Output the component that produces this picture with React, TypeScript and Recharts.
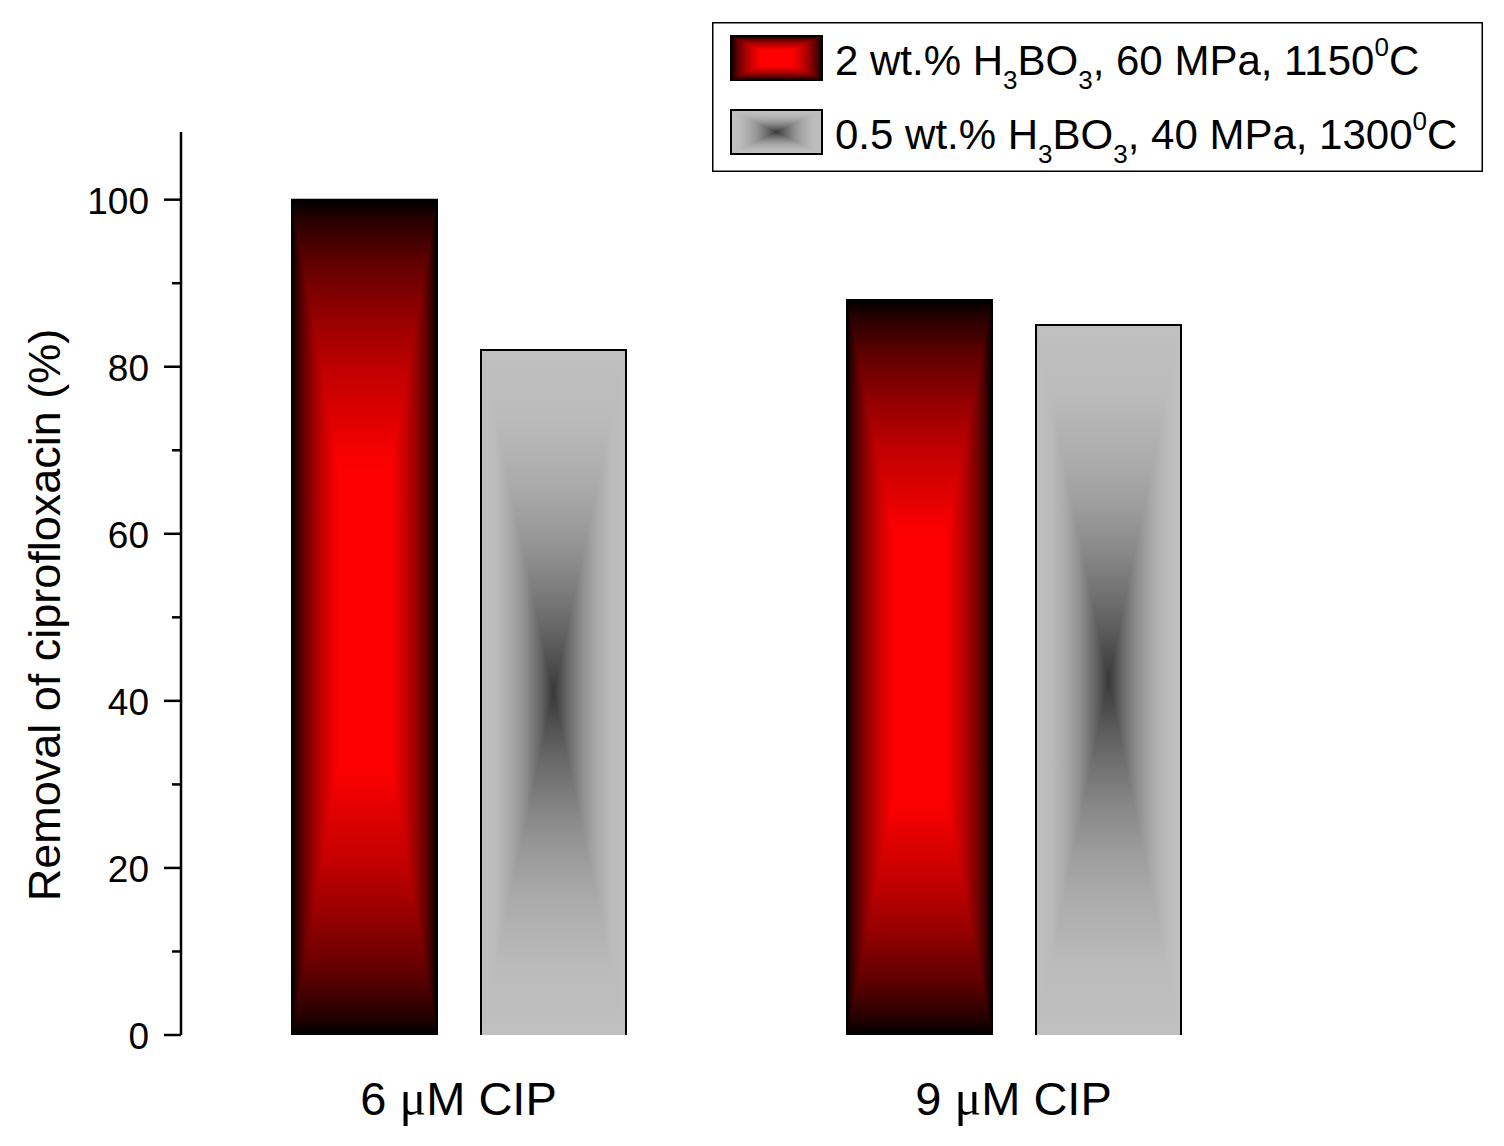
import { Bar, BarChart, Legend, XAxis, YAxis } from "recharts";

const categories = ["6 μM CIP", "9 μM CIP"];
const boric2 = [100, 88];
const boric05 = [82, 85];
const yTicks = [0, 10, 20, 30, 40, 50, 60, 70, 80, 90, 100];
const yLabelled = [0, 20, 40, 60, 80, 100];
const axisTitle = "Removal of ciprofloxacin (%)";

// legend label pieces: [text, "sub" | "sup" | undefined]
const legendLabels: [string, string?][][] = [
  [["2 wt.% H"], ["3", "sub"], ["BO"], ["3", "sub"], [", 60 MPa, 1150"], ["0", "sup"], ["C"]],
  [["0.5 wt.% H"], ["3", "sub"], ["BO"], ["3", "sub"], [", 40 MPa, 1300"], ["0", "sup"], ["C"]],
];

const data = categories.map((name, i) => ({ name, a: boric2[i], b: boric05[i] }));

const FONT = '"Liberation Sans", Arial, sans-serif';

// gradient stops from the edge (0) to the middle (1) of a bar
const fills: Record<string, { stops: [number, string][]; base: string }> = {
  red: {
    base: "#c00000",
    stops: [
      [0, "#000000"],
      [0.05, "#290000"],
      [0.15, "#610000"],
      [0.29, "#990000"],
      [0.42, "#c40000"],
      [0.53, "#e00000"],
      [0.62, "#fa0000"],
      [0.66, "#ff0000"],
      [1, "#ff0000"],
    ],
  },
  gray: {
    base: "#949494",
    stops: [
      [0, "#c0c0c0"],
      [0.2, "#bbbbbb"],
      [0.4, "#aaaaaa"],
      [0.5, "#9e9e9e"],
      [0.6, "#8f8f8f"],
      [0.7, "#7d7d7d"],
      [0.8, "#696969"],
      [0.9, "#525252"],
      [1, "#383838"],
    ],
  },
};

// Origin style "rectangle" gradient: four regions meeting in the middle
function GradientRect({
  x,
  y,
  w,
  h,
  kind,
  id,
  openBottom = false,
}: {
  x: number;
  y: number;
  w: number;
  h: number;
  kind: string;
  id: string;
  openBottom?: boolean;
}) {
  if (!w || !h || h <= 0) return null;
  const f = fills[kind];
  const cx = x + w / 2;
  const cy = y + h / 2;
  const grad = (suffix: string, x2: number, y2: number) => (
    <linearGradient id={`${id}-${suffix}`} x1="0" y1="0" x2={x2} y2={y2}>
      {f.stops.map(([o, c]) => (
        <stop key={o} offset={o} stopColor={c} />
      ))}
    </linearGradient>
  );
  const reversed = (suffix: string, x2: number, y2: number) => (
    <linearGradient id={`${id}-${suffix}`} x1={x2} y1={y2} x2="0" y2="0">
      {f.stops.map(([o, c]) => (
        <stop key={o} offset={o} stopColor={c} />
      ))}
    </linearGradient>
  );
  return (
    <g>
      <defs>
        {grad("t", 0, 1)}
        {reversed("b", 0, 1)}
        {grad("l", 1, 0)}
        {reversed("r", 1, 0)}
      </defs>
      <rect x={x} y={y} width={w} height={h} fill={f.base} />
      <rect x={x} y={y} width={w} height={h / 2} fill={`url(#${id}-t)`} />
      <rect x={x} y={cy} width={w} height={h / 2} fill={`url(#${id}-b)`} />
      <polygon points={`${x},${y} ${x},${y + h} ${cx},${cy}`} fill={`url(#${id}-l)`} />
      <polygon points={`${x + w},${y} ${x + w},${y + h} ${cx},${cy}`} fill={`url(#${id}-r)`} />
      {openBottom ? (
        <path
          d={`M${x},${y + h} L${x},${y} L${x + w},${y} L${x + w},${y + h}`}
          fill="none"
          stroke="#000"
          strokeWidth={2}
        />
      ) : (
        <rect x={x} y={y} width={w} height={h} fill="none" stroke="#000" strokeWidth={2} />
      )}
    </g>
  );
}

function YTick({ x, y, payload }: any) {
  const major = yLabelled.includes(payload.value);
  const len = major ? 17 : 9;
  return (
    <g>
      <line x1={x - len} y1={y} x2={x} y2={y} stroke="#000" strokeWidth={2.5} />
      {major && (
        <text x={x - 32} y={y + 14} textAnchor="end" fontSize={37} fontFamily={FONT} fill="#000">
          {payload.value}
        </text>
      )}
    </g>
  );
}

function XTick({ x, y, payload }: any) {
  const [num, rest] = String(payload.value).split(" μ");
  return (
    <text x={x} y={y + 80} textAnchor="middle" fontSize={47} fontFamily={FONT} fill="#000">
      {num}{" "}
      <tspan fontFamily='"Liberation Serif", serif' fontSize={50}>μ</tspan>
      {rest}
    </text>
  );
}

function LabelText({ parts }: { parts: [string, string?][] }) {
  let shift = 0;
  return (
    <>
      {parts.map(([t, kind], i) => {
        const target = kind === "sub" ? 14 : kind === "sup" ? -19 : 0;
        const dy = target - shift;
        shift = target;
        return (
          <tspan key={i} dy={dy} fontSize={kind ? 26 : 42}>
            {t}
          </tspan>
        );
      })}
    </>
  );
}

const renderLegend = ({ payload }: any) => (
  <svg width={771} height={150}>
    <rect x={0.75} y={0.75} width={769.5} height={148.5} fill="#fff" stroke="#000" strokeWidth={1.5} />
    {(payload ?? []).map((entry: any, i: number) => {
      const kind = entry.dataKey === "a" ? "red" : "gray";
      const top = 14 + i * 74;
      return (
        <g key={entry.dataKey}>
          <GradientRect x={19} y={top} w={91} h={44} kind={kind} id={`leg-${kind}`} />
          <text x={123} y={top + 39} fontFamily={FONT} fill="#000">
            <LabelText parts={legendLabels[i]} />
          </text>
        </g>
      );
    })}
  </svg>
);

export default function App() {
  return (
    <div style={{ position: "absolute", left: 0, top: 0, width: 1504, height: 1146, background: "#fff" }}>
      <BarChart
        width={1504}
        height={1146}
        data={data}
        margin={{ top: 132, right: 213, bottom: 31, left: 0 }}
        barGap={44}
      >
        <XAxis
          dataKey="name"
          axisLine={false}
          tickLine={false}
          tickSize={0}
          tickMargin={0}
          height={80}
          tick={<XTick />}
        />
        <YAxis
          width={181}
          domain={[0, 108.1]}
          ticks={yTicks}
          interval={0}
          tickLine={false}
          tickSize={0}
          tickMargin={0}
          axisLine={{ stroke: "#000", strokeWidth: 2.5 }}
          tick={<YTick />}
          label={{
            content: () => (
              <text
                transform="translate(60,615) rotate(-90)"
                textAnchor="middle"
                fontSize={45}
                fontFamily={FONT}
                fill="#000"
              >
                {axisTitle}
              </text>
            ),
          }}
        />
        <Legend
          layout="horizontal"
          verticalAlign="middle"
          align="center"
          content={renderLegend}
          wrapperStyle={{ position: "absolute", left: 712, top: 22, width: 771, height: 150 }}
        />
        <Bar
          dataKey="a"
          barSize={145}
          isAnimationActive={false}
          shape={(p: any) => (
            <GradientRect x={p.x} y={p.y} w={p.width} h={p.height} kind="red" id={`bar-a-${p.index}`} openBottom />
          )}
        />
        <Bar
          dataKey="b"
          barSize={145}
          isAnimationActive={false}
          shape={(p: any) => (
            <GradientRect x={p.x} y={p.y} w={p.width} h={p.height} kind="gray" id={`bar-b-${p.index}`} openBottom />
          )}
        />
      </BarChart>
    </div>
  );
}
